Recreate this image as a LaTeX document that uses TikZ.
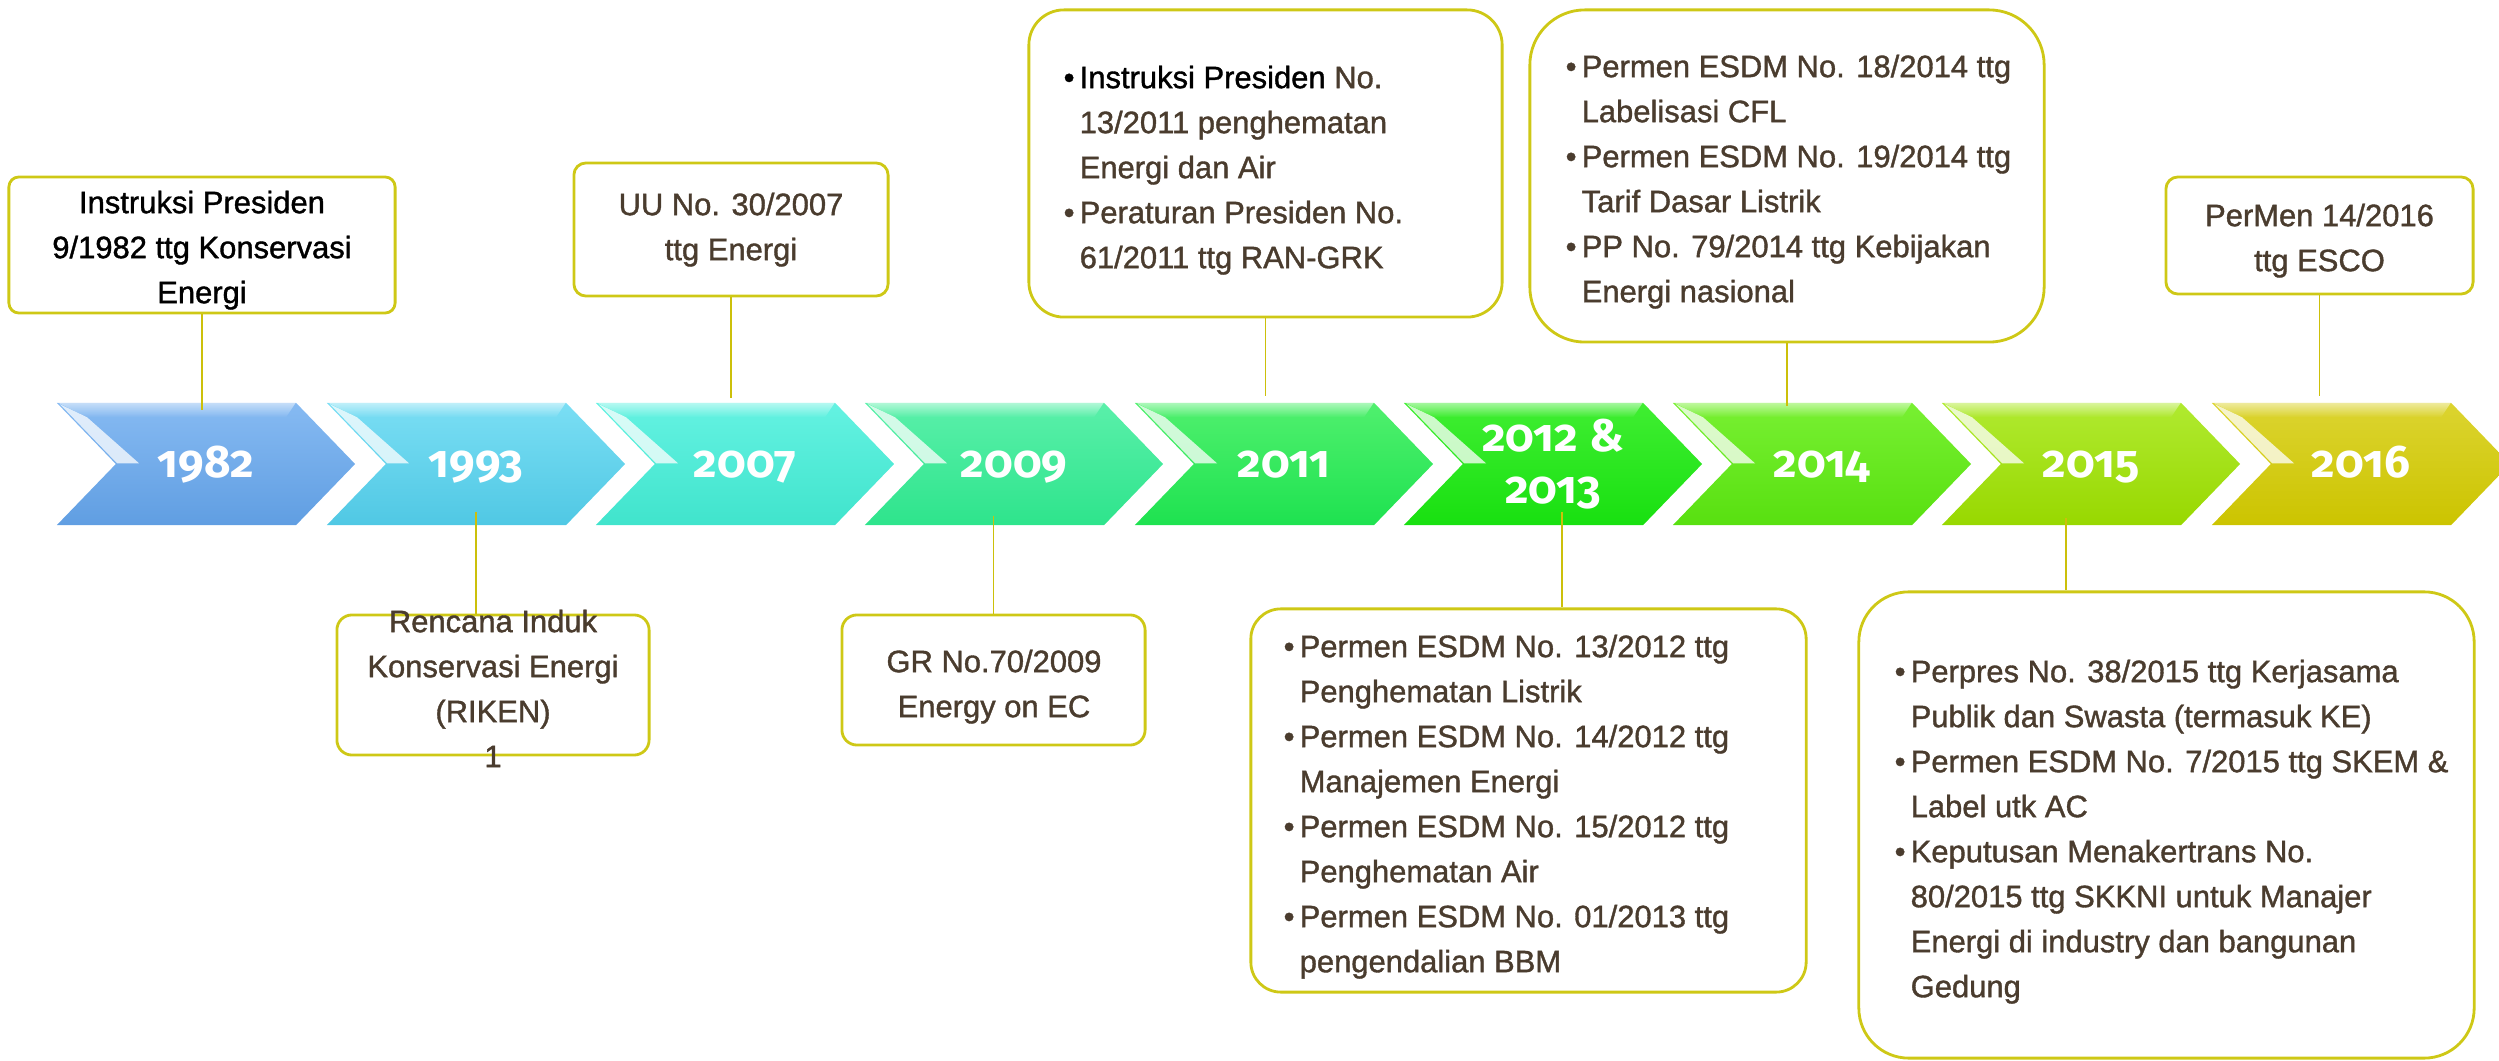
\documentclass[tikz,border=0pt]{standalone}
\usepackage{fontspec}
\setmainfont{Liberation Sans}
\newfontfamily\isifont[FakeBold=1.2]{Liberation Sans}
\newfontfamily\yearfont[Numbers=OldStyle]{Fira Sans}
\usetikzlibrary{shapes.symbols,calc,fadings}

\definecolor{coklat}{RGB}{74,60,46}
\definecolor{garis}{RGB}{206,200,22}
\definecolor{garistipis}{RGB}{204,192,10}
% warna panah tahun (atas / bawah)
\definecolor{a82}{RGB}{134,186,242}\definecolor{b82}{RGB}{96,158,226}
\definecolor{a93}{RGB}{122,222,244}\definecolor{b93}{RGB}{80,200,228}
\definecolor{a07}{RGB}{100,242,226}\definecolor{b07}{RGB}{64,228,204}
\definecolor{a09}{RGB}{90,240,170}\definecolor{b09}{RGB}{46,228,140}
\definecolor{a11}{RGB}{80,240,110}\definecolor{b11}{RGB}{30,226,80}
\definecolor{a12}{RGB}{64,238,50}\definecolor{b12}{RGB}{24,224,16}
\definecolor{a14}{RGB}{120,240,50}\definecolor{b14}{RGB}{88,224,16}
\definecolor{a15}{RGB}{176,234,48}\definecolor{b15}{RGB}{152,216,0}
\definecolor{a16}{RGB}{220,212,48}\definecolor{b16}{RGB}{204,196,0}

\newcommand\itm{\makebox[1.6mm][l]{\textbullet}}
\newcommand\cnt{\hspace*{1.6mm}}

\begin{document}
\begin{tikzpicture}[
        x=0.01cm, y=-0.01cm,
        tahun/.style 2 args={signal, signal from=west, signal to=east,
                     signal pointer angle=92, minimum width=29.8mm,
                     minimum height=12.2mm, inner sep=0pt,
                     top color=#1, bottom color=#2, text=white, align=center,
                     text height=3.5mm, text depth=0.8mm,
                     font=\yearfont\bfseries\fontsize{13}{15}\selectfont},
        kilap/.style={white, opacity=#1},
        kotak/.style={draw=garis, line width=0.8pt, rounded corners=#1},
        kotak/.default=1.2mm,
        isi/.style={inner sep=0pt, text=coklat,
                    font=\isifont\fontsize{8.8}{12.8}\selectfont},
        hubung/.style={draw=garistipis, line width=0.45pt}
    ]
        \useasboundingbox (0,0) rectangle (2499,1061);
        \clip (0,0) rectangle (2499,1061);

        % garis waktu
        \node[tahun={a82}{b82}] (t82) at (206,464) {1982};
        \node[tahun={a93}{b93}] (t93) at (476,464) {1993};
        \node[tahun={a07}{b07}] (t07) at (745,464) {2007};
        \node[tahun={a09}{b09}] (t09) at (1014,464) {2009};
        \node[tahun={a11}{b11}] (t11) at (1284,464) {2011};
        \node[tahun={a12}{b12}, text height=, text depth=] (t12) at (1553,464) {2012 \&\\2013};
        \node[tahun={a14}{b14}] (t14) at (1822,464) {2014};
        \node[tahun={a15}{b15}] (t15) at (2091,464) {2015};
        \node[tahun={a16}{b16}] (t16) at (2361,464) {2016};

        % kilap di sisi atas dan sisi kiri tiap panah
        \foreach \t in {t82,t93,t07,t09,t11,t12,t14,t15,t16}{
          \begin{scope}[shift={($(\t.north)+(-149,0)$)}]
            \fill[kilap=0.55, path fading=south]
              (0,0) -- (239,0) -- (229,15) -- (30,15) -- cycle;
            \fill[kilap=0.75] (3,2) -- (60,61) -- (82,61) -- (30,15) -- cycle;
          \end{scope}
        }

        % kotak atas
        \node[kotak=1mm, minimum width=38.6mm, minimum height=13.6mm] (n82) at (202,245) {};
        \node[kotak, minimum width=31.4mm, minimum height=13.3mm] (n07) at (731,229.5) {};
        \node[kotak=3.5mm, minimum width=47.3mm, minimum height=30.7mm] (n11) at (1265.5,163.5) {};
        \node[kotak=5.5mm, minimum width=51.4mm, minimum height=33.2mm] (n14) at (1787,176) {};
        \node[kotak, minimum width=30.7mm, minimum height=11.7mm] (n16) at (2319.5,235.5) {};
        % kotak bawah
        \node[kotak=1.5mm, minimum width=31.2mm, minimum height=14mm] (n93) at (493,685) {};
        \node[kotak=1.5mm, minimum width=30.3mm, minimum height=13mm] (n09) at (993.5,680) {};
        \node[kotak=3mm, minimum width=55.5mm, minimum height=38.3mm] (n12) at (1528.5,800.5) {};
        \node[kotak=5mm, minimum width=61.5mm, minimum height=46.6mm] (n15) at (2166.5,825) {};

        % isi kotak
        \node[isi, text=black, align=center, anchor=north] (p82) at (202,190)
            {Instruksi Presiden\\9/1982 ttg Konservasi\\Energi};
        \node[isi, align=center, anchor=north] (p07) at (731,192)
            {UU No. 30/2007\\ttg Energi};
        \node[isi, align=left, anchor=north west] (p11) at (1063,65)
            {{\color{black}\itm Instruksi Presiden} No.\\
             \cnt 13/2011 penghematan\\
             \cnt Energi dan Air\\
             \itm Peraturan Presiden No.\\
             \cnt 61/2011 ttg RAN-GRK};
        \node[isi, align=left, anchor=north west] (p14) at (1565,54)
            {\itm Permen ESDM No. 18/2014 ttg\\
             \cnt Labelisasi CFL\\
             \itm Permen ESDM No. 19/2014 ttg\\
             \cnt Tarif Dasar Listrik\\
             \itm PP No. 79/2014 ttg Kebijakan\\
             \cnt Energi nasional};
        \node[isi, align=center, anchor=north] (p16) at (2319.5,203)
            {PerMen 14/2016\\ttg ESCO};
        \node[isi, align=center, anchor=north] (p93) at (493,609)
            {Rencana Induk\\Konservasi Energi\\(RIKEN)\\1};
        \node[isi, align=center, anchor=north] (p09) at (994,649)
            {GR No.70/2009\\Energy on EC};
        \node[isi, align=left, anchor=north west] (p12) at (1283,634)
            {\itm Permen ESDM No. 13/2012 ttg\\
             \cnt Penghematan Listrik\\
             \itm Permen ESDM No. 14/2012 ttg\\
             \cnt Manajemen Energi\\
             \itm Permen ESDM No. 15/2012 ttg\\
             \cnt Penghematan Air\\
             \itm Permen ESDM No. 01/2013 ttg\\
             \cnt pengendalian BBM};
        \node[isi, align=left, anchor=north west] (p15) at (1894,659)
            {\itm Perpres No. 38/2015 ttg Kerjasama\\
             \cnt Publik dan Swasta (termasuk KE)\\
             \itm Permen ESDM No. 7/2015 ttg SKEM \&\\
             \cnt Label utk AC\\
             \itm Keputusan Menakertrans No.\\
             \cnt 80/2015 ttg SKKNI untuk Manajer\\
             \cnt Energi di industry dan bangunan\\
             \cnt Gedung};

        % penghubung
        \draw[hubung] (n82.south) -- ($(n82.south |- t82.north)+(0,8)$);
        \draw[hubung] (n07.south) -- ($(n07.south |- t07.north)+(0,-4)$);
        \draw[hubung] (n11.south) -- ($(n11.south |- t11.north)+(0,-6)$);
        \draw[hubung] (n14.south) -- ($(n14.south |- t14.north)+(0,4)$);
        \draw[hubung] (n16.south) -- ($(n16.south |- t16.north)+(0,-6)$);
        \draw[hubung] ($(t93.south)+(0,-14)$) -- (t93.south |- n93.north);
        \draw[hubung] ($(n09.north |- t09.south)+(0,-10)$) -- (n09.north);
        \draw[hubung] ($(t12.south)+(9,-14)$) coordinate (k12) -- (k12 |- n12.north);
        \draw[hubung] ($(t15.south)+(-25,-8)$) coordinate (k15) -- (k15 |- n15.north);
    \end{tikzpicture}
\end{document}
